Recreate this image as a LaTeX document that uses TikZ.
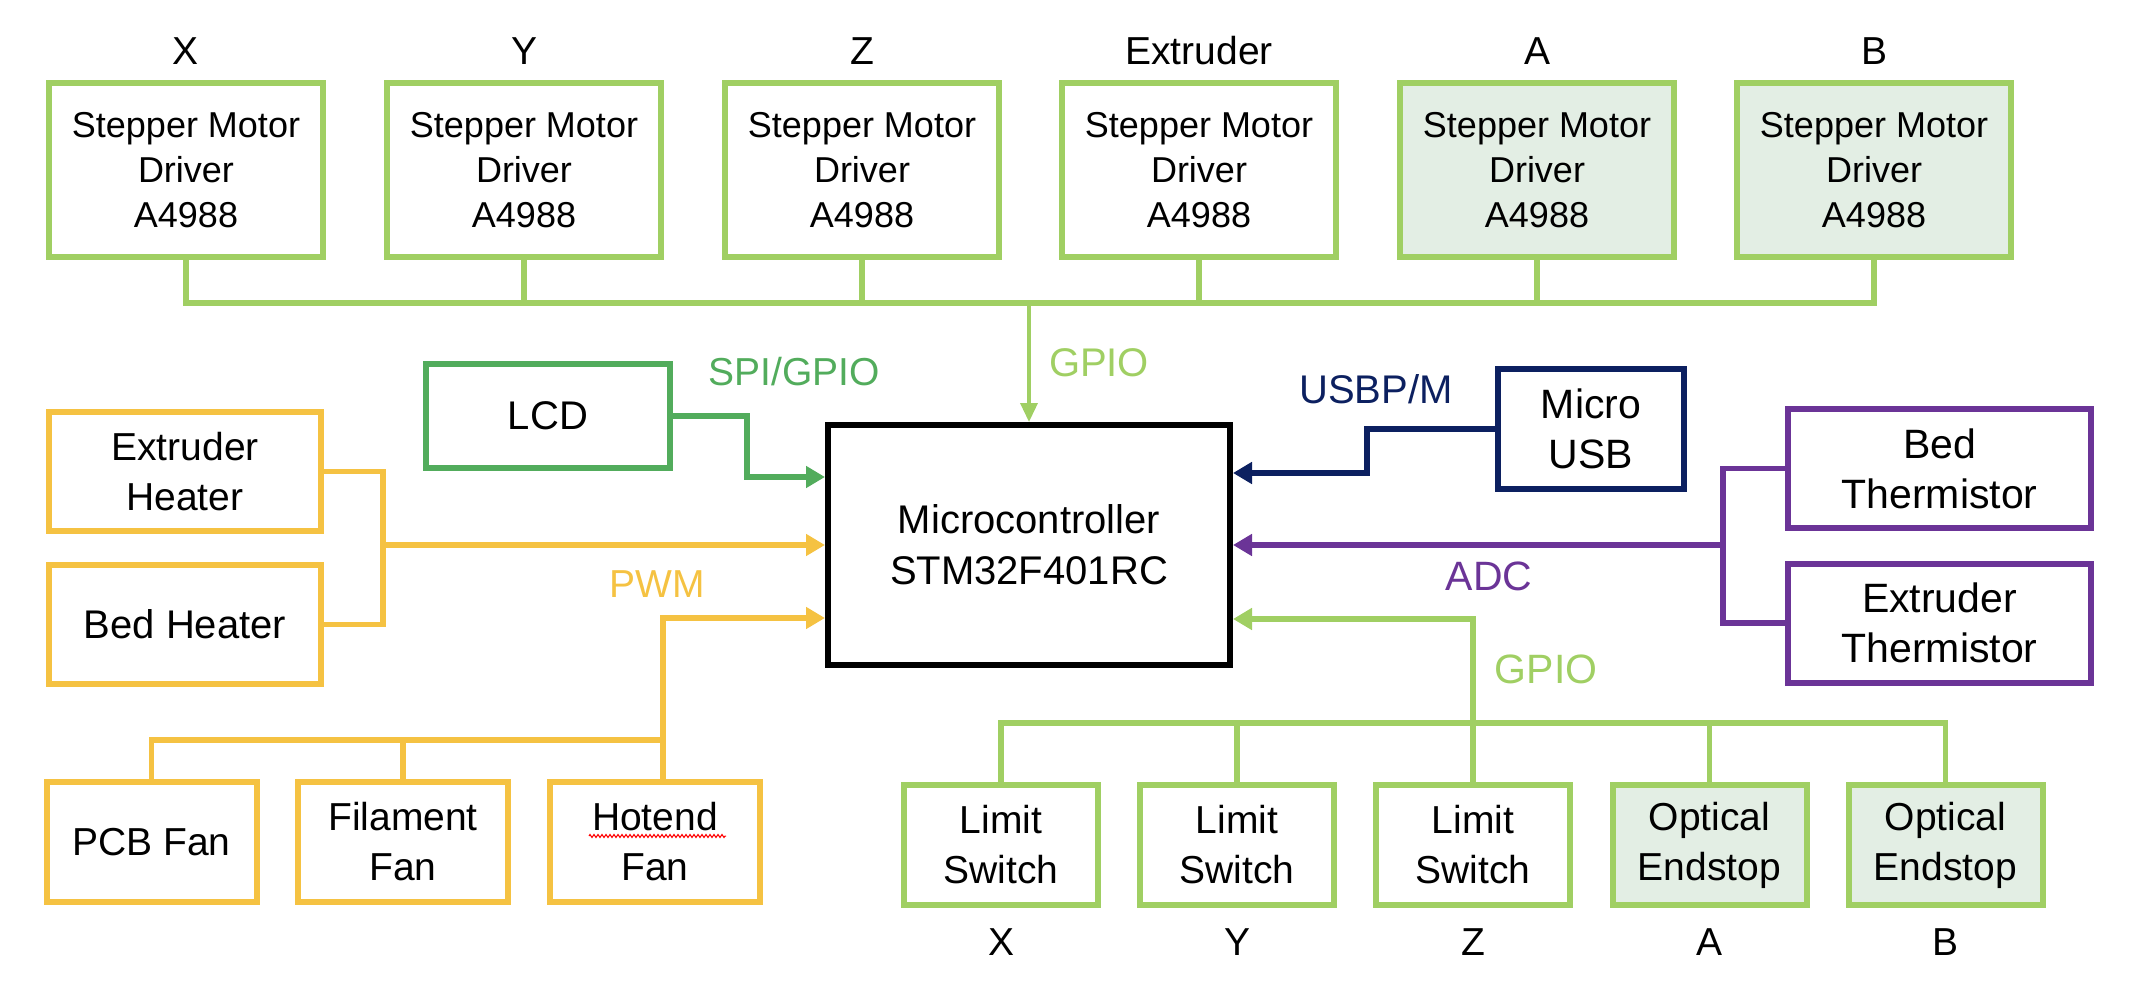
\documentclass[tikz,border=0pt]{standalone}
\usepackage{fontspec}
\setmainfont{Liberation Sans}
\usetikzlibrary{arrows.meta,decorations.pathmorphing,calc}
\definecolor{lgreen}{RGB}{160,207,99}
\definecolor{dgreen}{RGB}{82,172,92}
\definecolor{yel}{RGB}{245,194,66}
\definecolor{navy}{RGB}{12,32,96}
\definecolor{purp}{RGB}{107,52,151}
\definecolor{shade}{RGB}{227,238,228}
\begin{document}
\begin{tikzpicture}[x=1pt,y=-1pt,
  box/.style={draw, line width=6pt, inner sep=0pt, outer sep=0pt, align=center, text=black, font=\fontsize{39}{50}\selectfont},
  stepbox/.style={box, draw=lgreen, minimum width=274pt, minimum height=174pt, font=\fontsize{36}{45}\selectfont},
  heatbox/.style={box, draw=yel, minimum width=272pt, minimum height=119pt},
  fanbox/.style={box, draw=yel, minimum width=210pt, minimum height=120pt},
  swbox/.style={box, draw=lgreen, minimum width=194pt, minimum height=120pt},
  thbox/.style={box, draw=purp, minimum width=303pt, minimum height=119pt, font=\fontsize{41}{50}\selectfont},
  lbl/.style={inner sep=0pt, anchor=base, font=\fontsize{39}{50}\selectfont},
  conn/.style={line width=5.5pt},
  arr/.style={-{Triangle[length=19pt,width=21pt]}, shorten >=3pt}
]
\useasboundingbox (0,0) rectangle (2154,990);

% ---------- top stepper drivers ----------
\node[stepbox] (sx) at (186,170) {Stepper Motor\\Driver\\A4988};
\node[stepbox] (sy) at (524,170) {Stepper Motor\\Driver\\A4988};
\node[stepbox] (sz) at (862,170) {Stepper Motor\\Driver\\A4988};
\node[stepbox] (se) at (1199,170) {Stepper Motor\\Driver\\A4988};
\node[stepbox, fill=shade] (sa) at (1537,170) {Stepper Motor\\Driver\\A4988};
\node[stepbox, fill=shade] (sb) at (1874,170) {Stepper Motor\\Driver\\A4988};
\node[lbl] (tx) at (186,65) {X};
\node[lbl] (ty) at (524,65) {Y};
\node[lbl] (tz) at (862,65) {Z};
\node[lbl] (te) at (1199,65) {Extruder};
\node[lbl] (ta) at (1537,65) {A};
\node[lbl] (tb) at (1874,65) {B};

% ---------- microcontroller ----------
\node[box, draw=black, minimum width=402pt, minimum height=240pt, font=\fontsize{40}{51}\selectfont] (mcu) at (1029,545) {Microcontroller\\STM32F401RC};

% ---------- left side ----------
\node[box, draw=dgreen, minimum width=244pt, minimum height=104pt, font=\fontsize{40}{50}\selectfont] (lcd) at (548,416) {LCD};
\node[heatbox] (eh) at (185,471.5) {Extruder\\Heater};
\node[heatbox, font=\fontsize{40}{50}\selectfont] (bh) at (185,624.5) {Bed Heater};
\node[fanbox] (pf) at (151.5,842) {PCB Fan};
\node[fanbox] (ff) at (403,842) {Filament\\Fan};
\node[fanbox] (hf) at (655,842) {Hotend\\Fan};

% ---------- right side ----------
\node[box, draw=navy, minimum width=186pt, minimum height=120pt, font=\fontsize{41}{50}\selectfont] (usb) at (1591,429) {Micro\\USB};
\node[thbox] (bt) at (1939.5,468.5) {Bed\\Thermistor};
\node[thbox] (et) at (1939.5,623) {Extruder\\Thermistor};

% ---------- bottom switches ----------
\node[swbox] (lx) at (1001,845) {Limit\\Switch};
\node[swbox] (ly) at (1237,845) {Limit\\Switch};
\node[swbox] (lz) at (1473,845) {Limit\\Switch};
\node[swbox, fill=shade] (oa) at (1709.5,845) {Optical\\Endstop};
\node[swbox, fill=shade] (ob) at (1945.5,845) {Optical\\Endstop};
\node[lbl] (bx) at (1001,955) {X};
\node[lbl] (by) at (1237,955) {Y};
\node[lbl] (bz) at (1473,955) {Z};
\node[lbl] (ba) at (1709.5,955) {A};
\node[lbl] (bb) at (1945.5,955) {B};

% ---------- helper coordinates ----------
\coordinate (busT) at (0,303);
\coordinate (busB) at (0,723);
\coordinate (lcdY) at (0,477);
\coordinate (pwmY) at (0,618);
\coordinate (fanJ) at (663,740);
\coordinate (usbY) at (0,473);
\coordinate (gpY) at (0,619);

% ---------- connectors ----------
\draw[conn, lgreen] (sx.south) -- (sx.south |- busT) -- (sb.south |- busT) -- (sb.south);
\foreach \n in {sy,sz,se,sa} \draw[conn, lgreen] (\n.south) -- (\n.south |- busT);
\draw[lgreen, line width=3.5pt, -{Triangle[length=19pt,width=17pt]}, shorten >=3pt] (mcu.north |- busT) -- (mcu.north);

\draw[conn, dgreen, arr] (lcd.east) -- ++(77,0) |- (mcu.west |- lcdY);

\draw[conn, yel] (eh.east) -- ++(62,0) coordinate (hj) |- (bh.east);
\draw[conn, yel, arr] (hj |- mcu.west) -- (mcu.west);

\draw[conn, yel] (pf.north) |- (fanJ) -- (fanJ |- hf.north);
\draw[conn, yel] (ff.north) -- (ff.north |- fanJ);
\draw[conn, yel, arr] (fanJ) |- (mcu.west |- pwmY);

\draw[conn, navy, arr] (usb.west) -- ++(-131,0) |- (mcu.east |- usbY);

\draw[conn, purp] (bt.west) -- ++(-65,0) coordinate (aj) |- (et.west);
\draw[conn, purp, arr] (aj |- mcu.east) -- (mcu.east);

\draw[conn, lgreen] (lx.north) -- (lx.north |- busB) -- (ob.north |- busB) -- (ob.north);
\foreach \n in {ly,oa} \draw[conn, lgreen] (\n.north) -- (\n.north |- busB);
\draw[conn, lgreen, arr] (lz.north) -- (lz.north |- gpY) -- (mcu.east |- gpY);

% ---------- connector labels ----------
\node[lbl, text=dgreen] (lspi) at (794,385) {SPI/GPIO};
\node[lbl, text=lgreen, font=\fontsize{40}{50}\selectfont] (lgp1) at (1099,376) {GPIO};
\node[lbl, text=yel] (lpwm) at (657,597) {PWM};
\node[lbl, text=navy, font=\fontsize{40}{50}\selectfont] (lusb) at (1376,403) {USBP/M};
\node[lbl, text=purp, font=\fontsize{41}{50}\selectfont] (ladc) at (1489,590) {ADC};
\node[lbl, text=lgreen, font=\fontsize{41}{50}\selectfont] (lgp2) at (1546,683) {GPIO};

% spell-check squiggle under "Hotend"
\draw[red, line width=1pt, decorate, decoration={zigzag, amplitude=1.5pt, segment length=4pt}] ($(hf.center)+(-66,-6)$) -- ($(hf.center)+(71,-6)$);
\end{tikzpicture}
\end{document}
